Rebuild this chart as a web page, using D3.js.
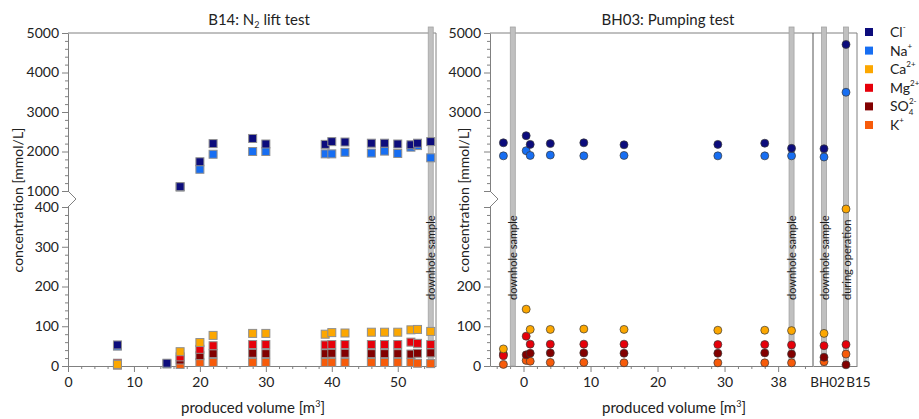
<!DOCTYPE html>
<html>
<head>
<meta charset="utf-8">
<script src="https://cdnjs.cloudflare.com/ajax/libs/d3/7.8.5/d3.min.js"></script>
<style>
body { margin: 0; background: #fff; }
svg { font-family: Lato, "Open Sans", sans-serif; }
.axis path, .axis line { stroke: #808080; }
.axis text { font-size: 14px; fill: #222; font-family: Lato, sans-serif; }
</style>
</head>
<body>
<div id="graph"></div>
<script>
// ions, legend order
var ionBase = ["Cl", "Na", "Ca", "Mg", "SO", "K"];
var ionSub = ["", "", "", "", "4", ""];
var ionSup = ["-", "+", "2+", "2+", "2-", "+"];
var ionColors = ["#0c0c7c", "#176ef2", "#fca700", "#e6000a", "#820000", "#f75b0a"];

// B14: N2 lift test (produced volume m3, mmol/L)
var b14Volume = [7.5, 15, 17, 20, 22, 28, 30, 39, 40, 42, 46, 48, 50, 52, 53, 55];
var b14Cl  = [53, 7, 1110, 1740, 2200, 2330, 2190, 2180, 2250, 2240, 2210, 2210, 2190, 2170, 2210, 2250];
var b14Na  = [50, 5, 1100, 1550, 1930, 2000, 2000, 1940, 1940, 1980, 1960, 2010, 1950, 2110, 2150, 1840];
var b14Ca  = [4, null, 36, 59, 77, 82, 82, 80, 84, 83, 85, 85, 85, 91, 92, 87];
var b14Mg  = [7, null, 23, 42, 51, 54, 54, 53, 54, 54, 54, 54, 54, 60, 57, 54];
var b14SO4 = [6, null, 15, 26, 31, 32, 31, 31, 32, 32, 31, 31, 31, 30, 32, 33];
var b14K   = [2, null, 4, 9, 9, 9, 9, 9, 9, 9, 9, 9, 9, 9, 7, 6];

// BH03: pumping test
var bh03Volume = [-3, 0.4, 1, 4, 9, 15, 29, 36, 40];
var bh03Cl  = [2220, 2400, 2180, 2200, 2220, 2170, 2180, 2210, 2080];
var bh03Na  = [1890, 2020, 1900, 1910, 1890, 1900, 1890, 1890, 1890];
var bh03Ca  = [43, 143, 92, 92, 93, 92, 90, 90, 89];
var bh03Mg  = [26, 75, 55, 55, 55, 55, 54, 54, 53];
var bh03SO4 = [30, 28, 32, 33, 33, 32, 32, 33, 30];
var bh03K   = [4, 14, 12, 9, 9, 8, 8, 8, 8];

// other wells
var wells = ["BH02", "B15"];
var wellCl  = [2070, 4710];
var wellNa  = [1860, 3500];
var wellCa  = [82, 395];
var wellMg  = [51, 54];
var wellSO4 = [22, 3];
var wellK   = [11, 30];

// grey sample markers
var b14Samples = [55];
var b14SampleText = ["downhole sample"];
var bh03Samples = [-1.6, 40];
var bh03SampleText = ["downhole sample", "downhole sample"];
var wellSampleText = ["downhole sample", "during operation"];

// axis ticks
var yMajor = [0, 100, 200, 300, 400, 1000, 2000, 3000, 4000, 5000];
var yRightLabels = [0, 100, 200, 3000, 4000, 5000];
var xLeftTicks = [0, 10, 20, 30, 40, 50];
var xRightTicks = [0, 10, 20, 30, 38];

var svg = d3.select("#graph").append("svg")
    .attr("width", 919)
    .attr("height", 419);

var plotTop = 33, plotBottom = 366;

// broken y axis: 0-400 below, 1000-5000 above
var yScale = d3.scaleLinear()
    .domain([0, 400, 1000, 5000])
    .range([plotBottom, 207, 191, plotTop]);

var xLeft = d3.scaleLinear().domain([0, 55.8]).range([68, 436]);
var xRight = d3.scaleLinear().domain([-5, 43.2]).range([490, 813]);
var xWell = d3.scalePoint().domain(wells).range([813, 857]).padding(0.5);

var yMinor = d3.range(20, 400, 20).filter(function(v) { return v % 100; })
    .concat(d3.range(1200, 5000, 200).filter(function(v) { return v % 1000; }));

function yAxis(x0, labels) {
  svg.append("g")
      .attr("class", "axis")
      .attr("transform", "translate(" + x0 + ",0)")
      .call(d3.axisLeft(yScale).tickValues(yMajor).tickSize(6).tickSizeOuter(0)
        .tickFormat(function(d) { return labels.indexOf(d) >= 0 ? d : ""; }));
  svg.append("g")
      .attr("class", "axis")
      .attr("transform", "translate(" + x0 + ",0)")
      .call(d3.axisLeft(yScale).tickValues(yMinor).tickSize(3).tickFormat(""))
      .select(".domain").remove();
  // break marker
  svg.append("line")
      .attr("x1", x0).attr("x2", x0)
      .attr("y1", yScale(1000) + 1).attr("y2", yScale(400) - 1)
      .attr("stroke", "#fff").attr("stroke-width", 3);
  svg.append("path")
      .attr("d", "M" + x0 + "," + yScale(1000) + "L" + (x0 + 8) + "," + ((yScale(1000) + yScale(400)) / 2) + "L" + x0 + "," + yScale(400))
      .attr("fill", "#fff")
      .attr("stroke", "#808080");
}

function frame(x0, x1) {
  svg.append("line").attr("x1", x0).attr("x2", x1).attr("y1", plotTop).attr("y2", plotTop).attr("stroke", "#808080");
  svg.append("line").attr("x1", x1).attr("x2", x1).attr("y1", plotTop).attr("y2", plotBottom).attr("stroke", "#808080");
}

function minorX(scale, lo, hi, skip) {
  svg.append("g")
      .attr("class", "axis")
      .attr("transform", "translate(0," + plotBottom + ")")
      .call(d3.axisBottom(scale).tickSize(3).tickFormat("")
        .tickValues(d3.range(lo, hi, 2).filter(function(v) { return skip.indexOf(v) < 0; })))
      .select(".domain").remove();
}

function sampleBar(x, label) {
  svg.append("rect")
      .attr("x", x - 2.5).attr("y", 27)
      .attr("width", 5).attr("height", plotBottom - 27)
      .attr("fill", "#c0c0c0").attr("stroke", "#a3a3a3").attr("stroke-width", 0.8);
  svg.append("text")
      .attr("transform", "translate(" + x + ",300) rotate(-90)")
      .attr("dominant-baseline", "central")
      .style("font-size", "11px")
      .style("fill", "#1a1a1a")
      .text(label);
}

function points(xs, series) {
  var out = [];
  for (var i = series.length - 1; i >= 0; i--) {
    series[i].forEach(function(v, j) {
      if (v != null) out.push({x: xs[j], y: v, c: i});
    });
  }
  return out;
}

// left panel
yAxis(68, yMajor);
svg.append("g")
    .attr("class", "axis")
    .attr("transform", "translate(0," + plotBottom + ")")
    .call(d3.axisBottom(xLeft).tickValues(xLeftTicks).tickSize(6).tickSizeOuter(0).tickPadding(5));
minorX(xLeft, 2, 56, xLeftTicks);
frame(68, 436);

b14Samples.forEach(function(v, i) { sampleBar(xLeft(v), b14SampleText[i]); });

svg.selectAll(".sq")
    .data(points(b14Volume, [b14Cl, b14Na, b14Ca, b14Mg, b14SO4, b14K]))
    .enter().append("rect")
    .attr("class", "sq")
    .attr("x", function(d) { return xLeft(d.x) - 4; })
    .attr("y", function(d) { return yScale(d.y) - 4; })
    .attr("width", 8).attr("height", 8)
    .attr("fill", function(d) { return ionColors[d.c]; })
    .attr("stroke", "#8f8f8f")
    .attr("stroke-width", 1);

// right panel
yAxis(490, yRightLabels);
svg.append("g")
    .attr("class", "axis")
    .attr("transform", "translate(0," + plotBottom + ")")
    .call(d3.axisBottom(xRight).tickValues(xRightTicks).tickSize(6).tickSizeOuter(0).tickPadding(5));
minorX(xRight, -4, 43, xRightTicks.concat([40]));
svg.append("g")
    .attr("class", "axis")
    .attr("transform", "translate(0," + plotBottom + ")")
    .call(d3.axisBottom(xWell).tickSize(0).tickSizeOuter(0).tickPadding(11))
    .selectAll("text")
    .style("font-size", "13.5px")
    .attr("dx", function(d, i) { return [3, 12][i]; });
frame(490, 857);
svg.append("line")
    .attr("x1", 813).attr("x2", 813).attr("y1", plotTop).attr("y2", plotBottom)
    .attr("stroke", "#555");

bh03Samples.forEach(function(v, i) { sampleBar(xRight(v), bh03SampleText[i]); });
wells.forEach(function(w, i) { sampleBar(xWell(w), wellSampleText[i]); });

svg.selectAll(".dot")
    .data(points(bh03Volume, [bh03Cl, bh03Na, bh03Ca, bh03Mg, bh03SO4, bh03K]))
    .enter().append("circle")
    .attr("class", "dot")
    .attr("cx", function(d) { return xRight(d.x); })
    .attr("cy", function(d) { return yScale(d.y); })
    .attr("r", 4)
    .attr("fill", function(d) { return ionColors[d.c]; })
    .attr("stroke", "#3a3a3a")
    .attr("stroke-width", 0.7);

svg.selectAll(".well")
    .data(points(wells, [wellCl, wellNa, wellCa, wellMg, wellSO4, wellK]))
    .enter().append("circle")
    .attr("class", "well")
    .attr("cx", function(d) { return xWell(d.x); })
    .attr("cy", function(d) { return yScale(d.y); })
    .attr("r", 4)
    .attr("fill", function(d) { return ionColors[d.c]; })
    .attr("stroke", "#3a3a3a")
    .attr("stroke-width", 0.7);

// titles and axis labels
var t1 = svg.append("text").attr("x", 259).attr("y", 25)
    .style("text-anchor", "middle").style("font-size", "15px").style("fill", "#222");
t1.append("tspan").text("B14: N");
t1.append("tspan").attr("dy", 3).style("font-size", "9px").text("2");
t1.append("tspan").attr("dy", -3).text(" lift test");

svg.append("text").attr("x", 668).attr("y", 25)
    .style("text-anchor", "middle").style("font-size", "15px").style("fill", "#222")
    .text("BH03: Pumping test");

[253, 674].forEach(function(cx) {
  var t = svg.append("text").attr("x", cx).attr("y", 413)
      .style("text-anchor", "middle").style("font-size", "15px").style("fill", "#222");
  t.append("tspan").text("produced volume [m");
  t.append("tspan").attr("dy", -6).style("font-size", "9px").text("3");
  t.append("tspan").attr("dy", 6).text("]");
});

[23, 469].forEach(function(cx) {
  svg.append("text")
      .attr("transform", "translate(" + cx + ",200) rotate(-90)")
      .style("text-anchor", "middle").style("font-size", "14px").style("fill", "#222")
      .text("concentration [mmol/L]");
});

// legend
var legend = svg.selectAll(".legend")
    .data(ionBase)
    .enter().append("g")
    .attr("class", "legend")
    .attr("transform", function(d, i) { return "translate(865," + (32 + i * 18.6) + ")"; });

legend.append("rect")
    .attr("x", 0).attr("y", -4)
    .attr("width", 8).attr("height", 8)
    .attr("fill", function(d, i) { return ionColors[i]; });

legend.each(function(d, i) {
  var t = d3.select(this).append("text")
      .attr("x", 25).attr("y", 5)
      .style("font-size", "14px").style("fill", "#222");
  t.append("tspan").text(d);
  if (ionSub[i]) t.append("tspan").attr("dy", 4).style("font-size", "8px").text(ionSub[i]);
  t.append("tspan")
      .attr("dx", ionSub[i] ? -4.5 : 0)
      .attr("dy", ionSub[i] ? -11 : -7)
      .style("font-size", "8px")
      .text(ionSup[i]);
});
</script>
</body>
</html>
